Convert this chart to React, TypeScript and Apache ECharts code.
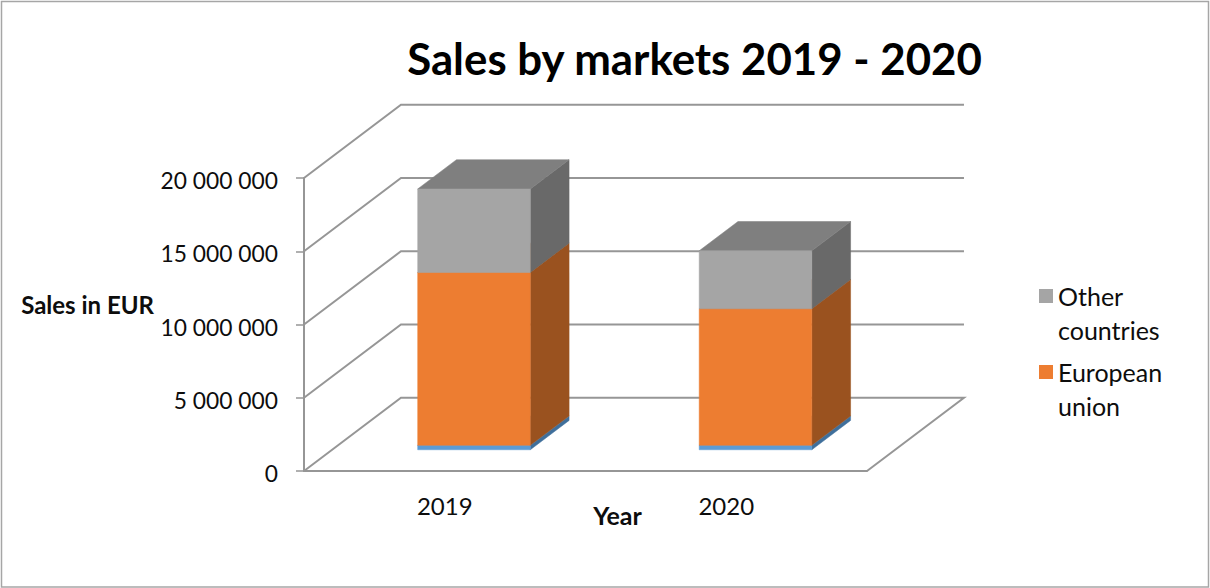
import React, { useEffect, useRef } from "react";
import * as echarts from "echarts";

const categories = ["2019", "2020"];
const domesticValues = [300000, 300000];
const euValues = [11800000, 9320000];
const otherValues = [5700000, 3960000];
const yTicks = [0, 5000000, 10000000, 15000000, 20000000];
const blueName = "Domestic";
const euName = "European\nunion";
const otherName = "Other\ncountries";

const FONT = "Lato, Carlito, sans-serif";
const LINE = "#969696";
const DEPTH_VALUE = 5000000; // the floor's depth, in value units (one tick band)
const DEPTH_BAND = 0.3445; // the floor's depth, as a share of a category band
const NEAR = 0.29;
const FAR = 0.69;
const BAR = 0.4;
const BAR_SHIFT = 0.004;

const wallItem = (params: any, api: any) => {
  const v = api.value(1);
  const band = api.size([1, 0])[0];
  const dx = band * DEPTH_BAND;
  const a = api.coord([0, v]);
  const xl = a[0] - band / 2;
  const xr = api.coord([categories.length - 1, v])[0] + band / 2;
  const yb = api.coord([0, v + DEPTH_VALUE])[1];
  const pts: number[][] = [[xl, a[1]], [xl + dx, yb], [xr + dx, yb]];
  if (v === 0) pts.push([xr, a[1]]);
  return {
    type: "polyline",
    silent: true,
    shape: { points: pts },
    style: { stroke: LINE, lineWidth: 2, fill: "none" },
  };
};

const barItem = (front: string, side: string, top: string) => (params: any, api: any) => {
  const idx = api.value(0);
  const band = api.size([1, 0])[0];
  const c = api.coord([idx, 0])[0] + band * BAR_SHIFT;
  const w = band * BAR;
  const dx = band * DEPTH_BAND;
  const at = (xShare: number, v: number, depth: number) => [
    c - w / 2 + w * xShare + dx * depth,
    api.coord([idx, v + DEPTH_VALUE * depth])[1],
  ];
  const lo = api.value(1);
  const hi = api.value(2);
  const poly = (points: number[][], fill: string) => ({
    type: "polygon",
    silent: true,
    shape: { points },
    style: { fill, stroke: fill, lineWidth: 0.5 },
  });
  return {
    type: "group",
    children: [
      poly([at(1, lo, NEAR), at(1, lo, FAR), at(1, hi, FAR), at(1, hi, NEAR)], side),
      poly([at(0, hi, NEAR), at(1, hi, NEAR), at(1, hi, FAR), at(0, hi, FAR)], top),
      poly([at(0, lo, NEAR), at(1, lo, NEAR), at(1, hi, NEAR), at(0, hi, NEAR)], front),
    ],
  };
};

const stackData = (values: number[], below: number[][]) =>
  values.map((v, i) => {
    const base = below.reduce((s, arr) => s + arr[i], 0);
    return [i, base, base + v];
  });

const LEGEND_ICON = "path://M0 0H14V14H0Z M0 48L0 48";

export default function App() {
  const ref = useRef<HTMLDivElement>(null);
  useEffect(() => {
    document.body.style.margin = "0";
    const chart = echarts.init(ref.current!, undefined, { renderer: "svg" });
    chart.setOption({
      animation: false,
      backgroundColor: "#ffffff",
      title: {
        text: "Sales by markets 2019 - 2020",
        left: 689.5,
        top: 31,
        textAlign: "center",
        textStyle: { fontFamily: FONT, fontSize: 43.8, fontWeight: "bold", color: "#000000" },
      },
      grid: { left: 304, top: 178, width: 563, height: 293 },
      legend: {
        left: 1034,
        top: 274,
        orient: "vertical",
        selectedMode: false,
        data: [otherName, euName],
        icon: LEGEND_ICON,
        itemWidth: 14,
        itemHeight: 48,
        itemGap: 8,
        textStyle: { fontFamily: FONT, fontSize: 25, lineHeight: 34, color: "#0d0d0d" },
      },
      xAxis: {
        type: "category",
        data: categories,
        name: "Year",
        nameLocation: "middle",
        nameGap: 31,
        nameMoveOverlap: false,
        nameTextStyle: { fontFamily: FONT, fontSize: 25, fontWeight: "bold", color: "#0d0d0d", padding: [0, 0, 0, 64] },
        axisLine: { lineStyle: { color: LINE, width: 2 } },
        axisTick: { length: 8, lineStyle: { color: LINE, width: 1.5 } },
        axisLabel: { fontFamily: FONT, fontSize: 24, color: "#0d0d0d", margin: 22 },
      },
      yAxis: {
        type: "value",
        min: 0,
        max: 20000000,
        interval: 5000000,
        name: "Sales in EUR",
        nameLocation: "middle",
        nameRotate: 0,
        nameGap: 150,
        nameMoveOverlap: false,
        nameTextStyle: {
          fontFamily: FONT,
          fontSize: 24,
          fontWeight: "bold",
          color: "#0d0d0d",
          verticalAlign: "bottom",
          lineHeight: 40,
        },
        splitLine: { show: false },
        axisLine: { show: true, lineStyle: { color: LINE, width: 2 } },
        axisTick: { show: true, length: 8, lineStyle: { color: LINE, width: 1.5 } },
        axisLabel: {
          fontFamily: FONT,
          fontSize: 22.8,
          color: "#0d0d0d",
          margin: 26,
          verticalAlign: "top",
          lineHeight: 4,
          formatter: (v: number) => String(v).replace(/\B(?=(\d{3})+$)/g, " "),
        },
      },
      graphic: [
        {
          type: "rect",
          silent: true,
          z: -1,
          shape: { x: 1.5, y: 1.5, width: 1207, height: 585.5 },
          style: { fill: "none", stroke: "#a6a6a6", lineWidth: 1.5 },
        },
      ],
      series: [
        {
          type: "custom",
          name: "Walls",
          renderItem: wallItem,
          data: yTicks.map((v) => [0, v]),
          encode: { x: 0, y: 1 },
          z: 1,
        },
        {
          type: "custom",
          name: blueName,
          itemStyle: { color: "#5b9bd5" },
          renderItem: barItem("#5b9bd5", "#3f6f9b", "#5b9bd5"),
          data: stackData(domesticValues, []),
          encode: { x: 0, y: 2 },
          z: 2,
        },
        {
          type: "custom",
          name: euName,
          itemStyle: { color: "#ed7d31" },
          renderItem: barItem("#ed7d31", "#9a521f", "#be6427"),
          data: stackData(euValues, [domesticValues]),
          encode: { x: 0, y: 2 },
          z: 3,
        },
        {
          type: "custom",
          name: otherName,
          itemStyle: { color: "#a5a5a5" },
          renderItem: barItem("#a5a5a5", "#696969", "#7f7f7f"),
          data: stackData(otherValues, [domesticValues, euValues]),
          encode: { x: 0, y: 2 },
          z: 4,
        },
      ],
    });
    return () => chart.dispose();
  }, []);
  return <div ref={ref} style={{ position: "fixed", left: 0, top: 0, width: 1210, height: 588 }} />;
}
